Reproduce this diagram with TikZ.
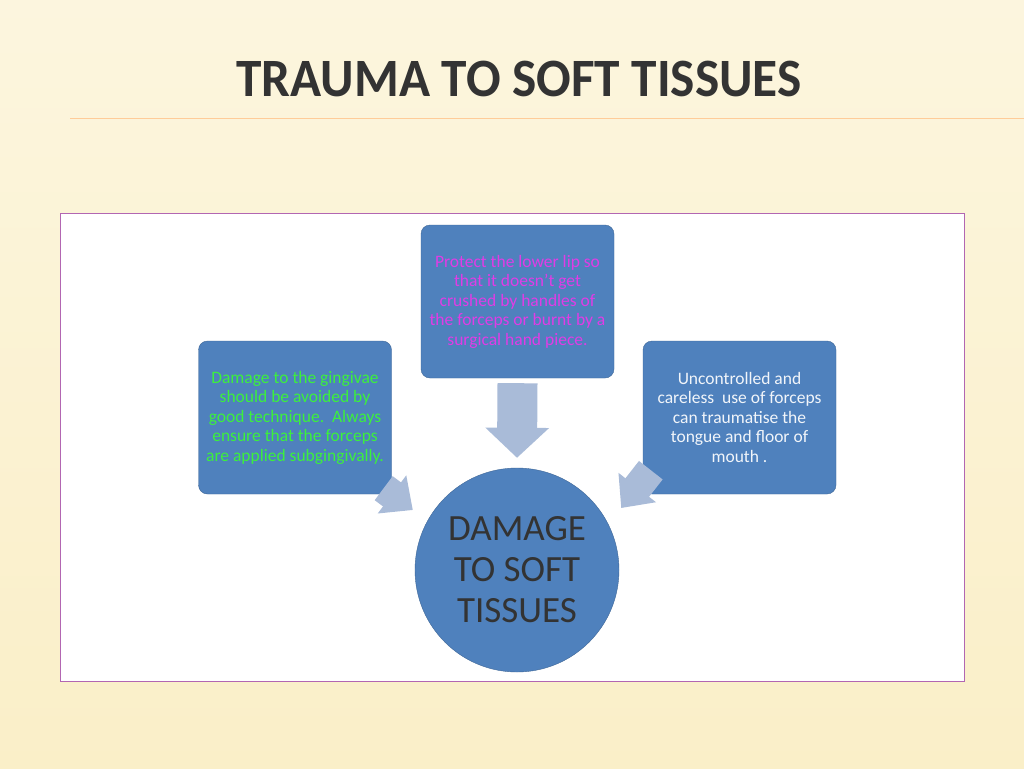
\documentclass[tikz,border=0pt]{standalone}
\usepackage{fontspec}
\setmainfont{Carlito}
\usetikzlibrary{arrows.meta,calc}
\definecolor{boxblue}{HTML}{4F81BD}
\definecolor{arrowc}{HTML}{A9BBD8}
\definecolor{bgy}{HTML}{FAEFC8}
\definecolor{mag}{HTML}{E03CE6}
\definecolor{grn}{HTML}{3CF03C}
\tikzset{
 x=1pt,y=-1pt,
 box/.style={fill=boxblue,draw=boxblue!80!black,rounded corners=9pt,minimum width=193pt,minimum height=153pt,inner sep=0pt,align=center,font=\fontsize{17.5}{19.5}\selectfont},
 txt/.style={align=center,inner sep=0pt,font=\fontsize{17.5}{19.5}\selectfont},
 blk/.style={arrowc,line width=40pt,-{Triangle[width=62pt,length=30pt]}}
}
\begin{document}
\begin{tikzpicture}
\useasboundingbox (0,0) rectangle (1024,768);
\shade[top color=bgy!60!white,bottom color=bgy] (0,0) rectangle (1024,768);
\draw[orange!40,line width=0.8pt] (70,118) -- (1024,118);
\node (title) [text=black!80,font=\fontsize{54}{56}\bfseries\selectfont,xscale=0.95] at (519,79) {TRAUMA TO SOFT TISSUES};
\draw[fill=white,draw=violet!60] (60,213) rectangle (964,681);
\node (top) [box,text=mag] at (517.5,301.5) {Protect the lower lip so\\that it doesn't get\\crushed by handles of\\the forceps or burnt by a\\surgical hand piece.};
\node (left) [box,text=grn] at (295,417.5) {Damage to the gingivae\\should be avoided by\\good technique.\ \ Always\\ensure that the forceps\\are applied subgingivally.};
\node (right) [box] at (739.5,417.5) {};
\node (rtext) [txt,text=white!92!boxblue] at (739.5,417) {Uncontrolled and\\careless\ \ use of forceps\\can traumatise the\\tongue and floor of\\mouth .};
\node (c) [circle,fill=boxblue,draw=boxblue!80!black,minimum size=204pt,align=center,text=black!80,font=\fontsize{37}{41}\selectfont] at (517,570) {DAMAGE\\TO SOFT\\TISSUES};
\draw[blk] ($(top.south)+(0,5)$) -- ($(c.north)+(0,-10)$);
\draw[blk,line width=30pt,-{Triangle[width=46pt,length=26pt]}] ($(left.south east)+(-8,-6)$) -- ($(c.west)+(-2,-60)$);
\draw[blk,line width=30pt,-{Triangle[width=46pt,length=26pt]}] ($(right.south west)+(8,-24)$) -- ($(c.east)+(2,-62)$);
\end{tikzpicture}
\end{document}
